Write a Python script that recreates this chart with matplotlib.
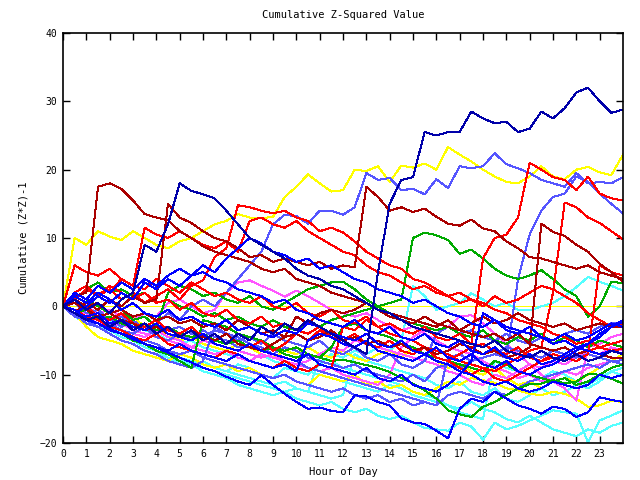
"""Cumulative Z-squared value per hour of day"""
import matplotlib
matplotlib.use('Agg')
import matplotlib.pyplot as plt
import numpy as np

# x values: one sample every half hour
hours = np.arange(0, 24.01, 0.5)

# Palette (old 16 colour style)
NAVY = '#0000aa'
BLUE = '#0000ff'
LIGHT_BLUE = '#5555ff'
RED = '#ff0000'
DARK_RED = '#aa0000'
GREEN = '#00aa00'
CYAN = '#55ffff'
YELLOW = '#ffff00'
MAGENTA = '#ff55ff'

# Series values (cumulative (z*z)-1)
navy_top = [0, -1, -2, -1.5, -3, -2, -3.5, -2.5, -4, -3,
            -4.5, -3.5, -5, -4, -5.5, -4, -5, -3, -4, -2.5,
            -3.5, -2, -3, -4, -5, -6, -7, 5, 15, 18.5,
            18.9, 25.5, 25, 25.5, 25.5, 28.5, 27.5, 26.8, 27, 25.5,
            26, 28.5, 27.5, 29, 31.3, 32, 30, 28.3, 28.8]
navy_peak = [0, 1, -0.5, 0.5, -1, 1, 2, 9, 8, 12,
             18, 16.9, 16.4, 15.8, 14, 12, 10, 9, 8, 7,
             5.5, 4.5, 4, 3, 2.5, 1.5, 0.5, -0.5, -1, -2,
             -3, -3.5, -4, -4.5, -5, -5.5, -6, -5, -6.5, -7,
             -7.5, -6.5, -7.5, -8, -7, -8, -7.5, -6.5, -7]
darkred_a = [0, 1.5, 2, 17.5, 18, 17.2, 15.5, 13.5, 13, 12.6,
             11, 10, 8.8, 8, 7.5, 7, 6.5, 5.5, 5, 5.5,
             4, 3.5, 3, 2, 1.5, 1, 0.5, -0.5, -1, -1.5,
             -2, -2.5, -3, -2, -3.5, -4, -4.5, -4, -5, -4,
             -5.5, -6, -6.5, -6, -7, -6.5, -7, -7.5, -7.5]
darkred_b = [0, -1, 0.5, -0.5, 1, 0, 1.5, 0.5, 1, 15,
             13, 12.2, 11, 10, 9.5, 8.5, 7.2, 7.5, 6.5, 7,
             6.5, 6, 6.5, 5.5, 6, 5.7, 17.5, 16, 14, 14.5,
             13.8, 14.3, 13.1, 12.1, 11.8, 12.7, 11.4, 11, 9.5, 8.5,
             7.2, 7, 6.5, 6, 5.5, 6, 5, 4.5, 4]
darkred_c = [0, 1, 0, 0.5, -1, -0.5, -1.5, -1, -2, -1.5,
             -2.5, -2, -3, -2.5, -3.5, -2, -3, -4, -3.5, -4.5,
             -4, -5, -4.5, -3.5, -5, -4.5, -5.5, -5, -6, -5.5,
             -6.5, -6, -7, -6.5, -5.5, -6, -7, -6.5, -7.5, -7,
             -6, 12.1, 10.9, 10.3, 9, 8, 6.2, 5, 3.6]
darkred_d = [0, 0.5, -0.5, -1.5, -1, -2, -2.5, -3.5, -3, -4,
             -4.5, -3.5, -4.5, -5, -4, -5.5, -6, -6.5, -5.5, -4.5,
             -1.5, -2.5, -1, -0.5, -1, -0.5, 0.5, -0.5, -1.5, -2,
             -2.5, -1.5, -2.5, -3, -3.5, -2.5, -1.5, -2.5, -2, -1,
             -2, -2.5, -3, -2.5, -3.5, -3, -2.5, -3, -3]
yellow_top = [0, 10, 9, 11, 10.2, 9.7, 11, 10, 9, 8.5,
              9.5, 10, 11, 12, 12.5, 13.5, 13, 12.9, 13.1, 16,
              17.5, 19.3, 18, 16.8, 17, 20, 19.8, 20.5, 18.2, 20.6,
              20.3, 20.9, 20, 23.3, 22.2, 21.2, 20, 19, 18.2, 18,
              19, 20.5, 19, 18.6, 20, 20.4, 19.6, 19.2, 22.2]
yellow_low = [0, -1, -3, -4.5, -5, -5.5, -6.5, -7, -7.5, -8,
              -7, -7.5, -8.5, -9, -8.5, -9.5, -9, -10, -10.5, -10,
              -11, -11.5, -10, -10.5, -11, -10, -11.5, -11, -12, -11.5,
              -12.5, -13, -12, -11, -11.5, -10.5, -10.8, -11.2, -12, -12.3,
              -12.8, -13, -12.5, -12.8, -13.5, -14.7, -14.5, -13.8, -14]
yellow_mid = [0, 2, 1, 0, -1, -2, -1.5, -3, -3.5, -4,
              -5, -4.5, -5.5, -6, -6.5, -5.5, -6, -7, -7.5, -6.5,
              -7, -6, -7, -7.5, -6.5, -7.5, -8, -7, -6.5, -7.5,
              -6, -7, -8, -9, -8.5, -9.5, -10, -9, -10.5, -11.5,
              -11, -12, -11, -10.5, -11, -10, -9, -8, -7]
lblue_top = [0, -1, -0.5, -2, -1.5, -3, -2, -3.5, -2.5, -1,
             -2, 0, 1, 0, 2, 4, 6, 8, 12, 13.4,
             13.2, 12.1, 14, 14, 13.4, 14.5, 19.5, 18.5, 18.8, 17,
             17.2, 16.4, 18.6, 17.3, 20.5, 20.2, 20.5, 22.4, 20.8, 20.2,
             19.5, 18.5, 18, 17.5, 19.5, 18, 18.2, 18, 18.9]
lblue_late = [0, -0.5, -1.5, -2, -3, -3.5, -4.5, -5, -5.5, -6.5,
              -7, -6.5, -7.5, -8, -8.5, -9, -9.5, -10, -10.5, -10,
              -11, -11.5, -12, -12.5, -12, -13, -13.5, -13, -14, -13.5,
              -14.5, -14, -14.5, -7.5, -7, -8, -7.5, -7, -7.5, 4,
              10.5, 14, 16, 16.5, 19, 18.2, 16.5, 15, 13.6]
lblue_c = [0, -1.5, -2, -3, -2.5, -3.5, -4, -3, -4.5, -5,
           -4, -5, -3.5, -4.5, -5, -6, -5.5, -6.5, -7, -6,
           -6.5, -7.5, -8, -8.5, -9, -8.5, -9.5, -10, -10.5, -11,
           -10, -11, -9, -8.5, -9, -8, -7.5, -7, -6, -6.5,
           -7, -7.5, -6.5, -7, -7.5, -7, -7.5, -8, -7.9]
lblue_d = [0, 0.5, -1, -0.5, -2, -1.5, -2.5, -3, -2, -3.5,
           -3, -4, -4.5, -3.5, -4, -5, -4.5, -5.5, -4, -5,
           -5.5, -6, -5, -6.5, -7, -6, -7.5, -8, -7, -8.5,
           -9, -8, -4, -3, -4, -3.5, -4.5, -5, -4, -5,
           -5.5, -4.5, -5, -4, -3.5, -4, -3, -2.5, -2.3]
lblue_e = [0, -1, -2.5, -3, -4, -5, -5.5, -6.5, -7, -8,
           -8.5, -9, -8, -3, -4, -4.5, -5.5, -6, -7, -7.5,
           -8, -9, -9.5, -10, -10.5, -11, -11.5, -12, -12.5, -13,
           -13.5, -14, -14.5, -13, -12.5, -13, -13.5, -12.5, -13, -12,
           -11, -10.5, -10, -9.5, -9, -8.5, -9, -8, -8.5]
red_peak = [0, 2, 1, 3, 2, 4, 3, 2.5, 4, 3,
            2, 3.5, 2.5, 1.5, 2, 1, 0.5, 1.5, 0, -0.5,
            0.5, -1, -1.5, -0.5, -2, -2.5, -1.5, -3, -2.5, -3.5,
            -4, -3, -4.5, -5, -4, -5.5, 7, 10, 10.5, 13,
            21, 20, 18.9, 18.5, 17, 19, 16.5, 15.8, 15.5]
red_late = [0, -1, 0, -1.5, -2, -1, -2.5, -3, -2, -3.5,
            -4, -3, -4.5, -5, -4, -5.5, -6, -5, -6.5, -5.5,
            -4, -5, -3.5, -4.5, -5, -4, -5.5, -6, -5, -6.5,
            -7, -6, -7.5, -8, -9, -10, -9, -9.5, -8.5, -7.5,
            -6.5, -6, 2, 15.2, 14.5, 13, 12.2, 11, 9.8]
red_mid = [0, 2, 3, 1.5, 2.5, 1, 2, 0.5, 1.5, 2.5,
           1, 3, 3.8, 7.2, 8.5, 14.8, 14.5, 14, 13.6, 14,
           13, 12.5, 11, 11.5, 10.8, 9.5, 8, 7, 6, 5.5,
           4, 3.5, 2.5, 1.5, 2, 1, 0.5, -0.5, -1, -2,
           -2.5, -3, -4, -4.5, -5.5, -5, -6, -6.5, -6.2]
red_end = [0, 1, 2.5, 1.5, 3, 2, 1, 2, 0.5, 1,
           -0.5, 0.5, -1, -1.5, -0.5, -2, -2.5, -1.5, -3, -2.5,
           -3.5, -4, -3, -4.5, -5, -4, -5.5, -6, -5, -6.5,
           -7, -6, -7.5, -8, -7, -6, -5.5, -6.5, -7, -6,
           -7.5, -8, -7, -7.5, -8, -7, 6, 5, 4.5]
red_noon = [0, -0.5, -1.5, -2, -3, -3.5, -4.5, -5, -4, -5.5,
            -6, -6.5, -7, -7.5, -6.5, -7, -8, -8.5, -9, -8,
            -9, -9.5, -8.5, -9, -3, -3.5, -2, -3, -4, -4.5,
            -5, -6, -6.5, -7, -8, -8.5, -9, -10.5, -11, -10,
            -9, -8, -7.5, -8, -7, -6.5, -6, -5.5, -5]
red_early = [0, 6, 5, 4.5, 5.5, 4, 3, 11.5, 10.5, 10,
             11, 10, 9, 8.5, 9.5, 8, 12.5, 13, 12, 11.5,
             12.5, 11, 10, 9, 8, 7.5, 6, 5, 4.5, 3.5,
             2.5, 3, 2, 1.5, 0.5, 1, 0, 1.5, 0.5, 1,
             2, 3, 2.5, 1.5, 0.5, -1, -2, -3, -2.5]
green_a = [0, 1, 2.5, 3.5, 2, 2.5, 1.5, 2, 0.5, 1,
           0, -0.5, -1.5, -1, -2, -1.5, -2.5, -3, -2, -3,
           -3.5, -2.5, -3, -2, -1.5, -1, -0.5, 0, 0.5, 1,
           10, 10.8, 10.4, 9.7, 7.7, 8.3, 7, 5.5, 4.5, 4,
           4.5, 5.3, 4, 2.5, 1.5, -1.5, 0, 3.6, 3.4]
green_b = [0, -1, -0.5, -2, -1.5, -2.5, -3, -2.5, -3.5, -3,
           -4, -4.5, -4, -5, -5.5, -5, -6, -6.5, -6, -7,
           -7.5, -7, -7.5, -8, -7.8, -8.2, -8.6, -9, -9.6, -10.5,
           -11.3, -12.3, -13.5, -15.2, -15.8, -16.2, -14.7, -14, -13, -12,
           -11.4, -11.3, -10.8, -11.3, -11, -9.9, -10, -10.6, -11.3]
green_c = [0, 2, 1, 0, -1, -0.5, -2, -1.5, -3, 2,
           3, 2.5, 1.5, 2, 1, 0.5, 1.5, 0, -0.5, 0.5,
           1.5, 2.5, 3, 3.5, 3.6, 2.5, 1, 0, -1, -2,
           -2.5, -3, -3.5, -3, -4, -4.5, -3.5, -5, -5.5, -4.5,
           -5, -4, -5.5, -4.5, -5, -6, -5, -5.5, -6]
green_d = [0, -1, -2, -2.5, -3.5, -4, -5, -5.5, -6.5, -7,
           -8, -9, -2, -2.5, -3, -4, -4.5, -5, -6, -6.5,
           -6, -7, -7.5, -6, -3, -2.5, -3.5, -4, -4.5, -5.5,
           -6, -7, -7.5, -8, -8.5, -9, -9.5, -8, -8.5, -9.5,
           -10, -10.5, -11, -10.5, -11.5, -11, -10, -9, -8.5]
cyan_a = [0, -1, -1.5, -2.5, -3, -4, -4.5, -5.5, -6, -6.5,
          -7.5, -8, -8.5, -9, -9.5, -8.5, -9, -10, -10.5, -9,
          -9.5, -10, -8.5, -7, -7.5, -6.5, -7, -6, -6.5, -5,
          3, 1.5, -0.5, 0, 0.5, 1.9, 1, 0, 0.5, -0.5,
          -0.6, 0, 0.5, 1.5, 2.8, 4.3, 3.6, 3, 2.3]
cyan_b = [0, -1.5, -2.5, -3, -4, -5, -5.5, -6.5, -7, -7.5,
          -8.5, -9, -8, -9, -9.5, -10, -10.5, -11, -11.5, -11,
          -12, -12.5, -13, -13.5, -13, -7, -8, -8.5, -9, -9.5,
          -10, -10.5, -11.5, -12, -11, -12.5, -13, -12, -13.5, -14,
          -13, -12, -13, -12.5, -11.5, -12, -11, -9.5, -10.1]
cyan_c = [0, -1, -2, -3, -3.5, -4.5, -5, -5.5, -6.5, -7,
          -7.5, -8.5, -9, -9.5, -10, -10.5, -11, -11.5, -12, -12.5,
          -12, -12.5, -7.5, -8, -9, -9.5, -10, -10.5, -11, -11.5,
          -12.5, -13, -13.5, -14.5, -15, -14, -15, -15.5, -16.5, -17,
          -16, -17, -18, -18.5, -19, -18, -18.5, -17.5, -17]
cyan_d = [0, -0.5, -1.5, -1, -2, -3, -2.5, -3.5, -4, -5,
          -5.5, -5, -6, -6.5, -7, -7.5, -8, -7, -8, -8.5,
          -9, -9.5, -10, -10.5, -11, -11.5, -12, -12.5, -11.5, -12,
          -13, -13.5, -14, -14.5, -15.5, -16, -16.5, -8, -9, -9.5,
          -10, -10.5, -9.5, -10, -11, -11.5, -10.5, -9.5, -9]
cyan_low = [0, -1.5, -2, -3, -3.5, -4.5, -5, -6, -6.5, -7.5,
            -8, -8.5, -9.5, -10, -10.5, -11.5, -12, -12.5, -13, -12.5,
            -13.5, -14, -14.5, -14, -15, -15.5, -15, -16, -16.5, -16,
            -17, -17.8, -18, -18.2, -17, -17.6, -19.5, -17, -18, -17.5,
            -16.7, -16, -15.2, -15.5, -15.7, -19.9, -16.7, -16, -15.2]
magenta_a = [0, -1, -1.5, -2.5, -3, -2.5, -3.5, -4, -4.5, -5,
             -5.5, -6, -5, -5.5, -6, -6.5, -7, -7.5, -7, -8,
             -8.5, -9, -9.5, -9, -10, -10.5, -11, -11.5, -10, -6,
             -4.5, -3.5, -4, -3, -1.5, -1.3, -2.5, -4, -5.5, -7,
             -8.5, -10, -11, -12, -13.8, -6, -5.5, -4.5, -4]
magenta_b = [0, 1, 0, -1, -0.5, -1.5, -2, -1, -1.5, 0.5,
             1, 0, -1, -0.5, 2, 3.5, 3.8, 3, 2.3, 1.4,
             2.3, 1.5, 0.5, -0.5, -1, -1.5, -1, -2, -3, -3.5,
             -3, -4, -5, -6, -6.5, -7, -8, -9, -9.5, -10.5,
             -10, -11, -10.5, -9.5, -10, -9, -8.5, -8, -8.5]
magenta_c = [0, -0.5, -1, -2, -2.5, -3.5, -4, -4.5, -3.5, -4.5,
             -5, -6, -6.5, -7, -6.5, -7.5, -8, -7, -7.5, -8,
             -8.5, -8, -7, -6, -6.5, -5, -5.5, -6, -6.5, -7,
             -7.5, -8, -8.5, -9.5, -10, -11, -11.5, -10, -10.5, -9.5,
             -8.5, -9, -8, -8.5, -7.5, -6.5, -7, -6, -6.5]
blue_a = [0, 1.5, 0.5, 2, 1, -0.5, 0.5, -1, -1.5, -0.5,
          -2, -1.5, -2.5, -3, -2, -3.5, -3, -4, -4.5, -3.5,
          -4, -2.5, -3, -4, -4.5, -5, -4, -5.5, -6, -5,
          -6.5, -7, -6, -7.5, -8, -7, -8.5, -9, -8, -9.5,
          -10, -9, -8.5, -7.5, -6.5, -5.5, -4, -3, -2.3]
blue_b = [0, -1, -1.5, -1, -2.5, -2, -3, -3.5, -2.5, -4,
          -4.5, -5, -4, -5.5, -6, -6.5, -5.5, -6.5, -7, -7.5,
          -8, -7, -8.5, -9, -9.5, -10, -9, -10.5, -11, -10,
          -11.5, -12, -12.5, -11.5, -10, -8, -1, -2, -3, -3.5,
          -4, -4.5, -5.5, -5, -6, -6.5, -7, -6.5, -6.9]
blue_c = [0, 2, 1, 3, 2, 3.5, 2.5, 4, 3, 4.5,
          5.5, 4.5, 5, 4, 3.5, 2.5, 2, 1.5, 0.5, 1,
          -0.5, -1, -2, -2.5, -3, -2, -3.5, -4, -3, -4.5,
          -5, -4, -5.5, -6, -5, -6.5, -7, -6, -7.5, -8,
          -7, -8.5, -8, -7, -6, -5.5, -4.5, -3, -2]
blue_d = [0, -1, 0, 1.5, 0.5, 2, 1, 3.5, 2.5, 4,
          3, 4.5, 6, 5, 7, 8.5, 10, 9.2, 8, 7.5,
          6.5, 7, 5.5, 6, 5, 4, 3.5, 2.5, 2, 1.5,
          0.5, 1, 0, -1, -1.5, -2.5, -3, -2, -3.5, -4,
          -3, -4.5, -5, -4, -5, -4.5, -3.5, -2.5, -3]
blue_e = [0, -0.5, -2, -2.5, -3.5, -4, -4.5, -5.5, -6, -6.5,
          -5.5, -6.5, -7, -7.5, -8, -7, -8, -8.5, -9, -8.5,
          -9.5, -5, -4, -4.5, -5.5, -6, -5, -6.5, -7, -7.5,
          -8, -7, -8, -8.5, -9.5, -10, -11, -11.5, -11, -12,
          -12.5, -12, -11, -11.5, -12, -11.5, -10, -10.5, -10]
blue_low = [0, -1, -1.8, -2.5, -3.3, -4, -4.8, -5.5, -6, -6.8,
            -7.5, -8.2, -9, -9.5, -10.3, -11, -11.5, -10.1, -11.5, -12.8,
            -14, -15, -14.8, -15.3, -15.5, -13, -13.2, -14, -14.5, -16.4,
            -17, -17.2, -18.2, -19.3, -15, -13.5, -14, -12.5, -13.5, -14.5,
            -15, -15.7, -14.7, -15, -16.2, -15.5, -13.3, -13.7, -14]

series = [
    (cyan_low, CYAN), (cyan_c, CYAN), (cyan_d, CYAN), (cyan_b, CYAN), (cyan_a, CYAN),
    (yellow_low, YELLOW), (yellow_mid, YELLOW), (yellow_top, YELLOW),
    (magenta_a, MAGENTA), (magenta_b, MAGENTA), (magenta_c, MAGENTA),
    (lblue_c, LIGHT_BLUE), (lblue_d, LIGHT_BLUE), (lblue_e, LIGHT_BLUE),
    (lblue_top, LIGHT_BLUE), (lblue_late, LIGHT_BLUE),
    (green_a, GREEN), (green_b, GREEN), (green_c, GREEN), (green_d, GREEN),
    (red_peak, RED), (red_late, RED), (red_mid, RED), (red_end, RED),
    (red_noon, RED), (red_early, RED),
    (darkred_a, DARK_RED), (darkred_b, DARK_RED), (darkred_c, DARK_RED), (darkred_d, DARK_RED),
    (blue_a, BLUE), (blue_b, BLUE), (blue_c, BLUE), (blue_d, BLUE), (blue_e, BLUE),
    (blue_low, BLUE), (navy_peak, NAVY), (navy_top, NAVY),
]

hour_ticks = list(range(24))
value_ticks = [-20, -10, 0, 10, 20, 30, 40]

plt.rcParams['font.family'] = ['DejaVu Sans Mono']
plt.rcParams['font.size'] = 7

fig = plt.figure(figsize=(6.4, 4.8), dpi=100)
ax = fig.add_axes([63 / 640, 37 / 480, 560 / 640, 410 / 480])

# zero line
ax.axhline(0, color=YELLOW, lw=0.72, antialiased=False)

for values, colour in series:
    ax.plot(hours, values, color=colour, lw=0.72, antialiased=False)

ax.set_xlim(0, 24)
ax.set_ylim(-20, 40)
ax.set_xticks(hour_ticks)
ax.set_yticks(value_ticks)
ax.tick_params(direction='in', length=5, width=1, top=True, right=True,
               labeltop=False, labelright=False, colors='black', pad=4)
for side in ax.spines.values():
    side.set_linewidth(1.2)

ax.set_title('Cumulative Z-Squared Value', fontsize=7.5, pad=11)
ax.set_xlabel('Hour of Day', fontsize=7.5, labelpad=6)
ax.set_ylabel('Cumulative (Z*Z)-1', fontsize=7.5, labelpad=8)

fig.savefig('out.png', dpi=100)
